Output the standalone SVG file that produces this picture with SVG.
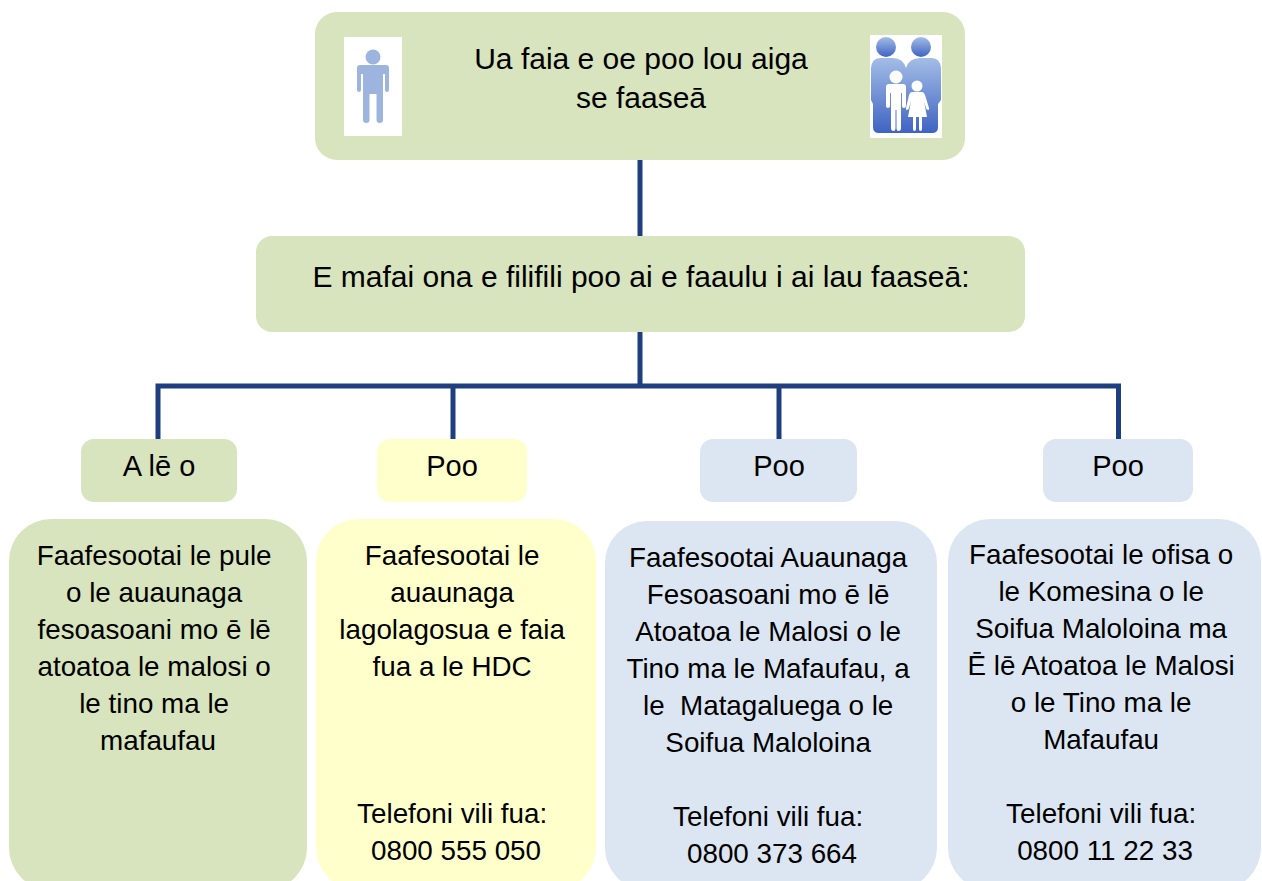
<svg xmlns="http://www.w3.org/2000/svg" width="1262" height="881" viewBox="0 0 1262 881">
<style>
.t{font-family:"Liberation Sans",Arial,sans-serif;fill:#000;text-anchor:middle}
.h{font-size:30px}
.l{font-size:29px}
.b{font-size:27.8px}
.g{fill:#d7e4bd}
.y{fill:#ffffcc}
.u{fill:#dce6f2}
.c{stroke:#1f3e80;stroke-width:5;fill:none}
</style>
<defs>
<linearGradient id="fam" x1="0" y1="0" x2="0" y2="1">
<stop offset="0" stop-color="#a3bde6"/>
<stop offset="1" stop-color="#3f63c2"/>
</linearGradient>
</defs>
<rect width="1262" height="881" fill="#fff"/>
<g id="connectors">
<path class="c" d="M640 160V237"/>
<path class="c" d="M640 332V386"/>
<path class="c" d="M158 439V386H1118.5V439"/>
<path class="c" d="M453 386V439"/>
<path class="c" d="M779 386V439"/>
</g>
<g id="top">
<rect class="g" x="315" y="12" width="650" height="148" rx="22"/>
<rect x="344" y="37" width="58" height="99" fill="#fff"/>
<g fill="#9db5de">
<circle cx="373" cy="57" r="7.5"/>
<path d="M360 65H386Q389 65 389 68V90Q389 92 387 92Q385 92 385 90V74H383V120Q383 123 379.5 123Q376.5 123 376.5 120V94H369.5V120Q369.5 123 366.5 123Q363 123 363 120V74H361V90Q361 92 359 92Q357 92 357 90V68Q357 65 360 65Z"/>
</g>
<rect x="870" y="35" width="72" height="103" fill="#fff"/>
<g fill="url(#fam)">
<circle cx="886" cy="47" r="10"/>
<circle cx="921" cy="47" r="10"/>
<path d="M880 58H893Q903 58 906 68Q909 58 920 58H932Q940 58 941 68V100L938 104V127Q938 133 932 133H879Q873 133 873 127V104L871 100V68Q872 58 880 58Z"/>
</g>
<g fill="#fff">
<circle cx="896" cy="77" r="6.5"/>
<path d="M889 84H903Q906 84 906 87V106Q906 108 904 108Q902 108 902 106V93H901V128Q901 131 898.5 131Q896.5 131 896.5 128V110H895.5V128Q895.5 131 893.5 131Q891 131 891 128V93H890V106Q890 108 888 108Q886 108 886 106V87Q886 84 889 84Z"/>
<circle cx="917" cy="86" r="5.5"/>
<path d="M912 92H922Q924 92 925 95L929 108Q929.5 110 928 110Q926.5 110 926 108L924 101L927 117H922V129Q922 131 920.5 131Q919 131 919 129V117H916V129Q916 131 914.5 131Q913 131 913 129V117H908L911 101L909 108Q908.5 110 907 110Q905.5 110 906 108L909 95Q910 92 912 92Z"/>
</g>
<text class="t h" x="641" y="69">Ua faia e oe poo lou aiga</text>
<text class="t h" x="641" y="108">se faaseā</text>
</g>
<g id="choose">
<rect class="g" x="256" y="236" width="769" height="96" rx="16"/>
<text class="t h" x="641" y="287">E mafai ona e filifili poo ai e faaulu i ai lau faaseā:</text>
</g>
<g id="label1">
<rect class="g" x="81" y="439" width="156" height="63" rx="13"/>
<text class="t l" x="159" y="476">A lē o</text>
</g>
<g id="label2">
<rect class="y" x="377" y="439" width="150" height="63" rx="13"/>
<text class="t l" x="452" y="476">Poo</text>
</g>
<g id="label3">
<rect class="u" x="700" y="439" width="157" height="63" rx="13"/>
<text class="t l" x="779" y="476">Poo</text>
</g>
<g id="label4">
<rect class="u" x="1043" y="439" width="150" height="63" rx="13"/>
<text class="t l" x="1118" y="476">Poo</text>
</g>
<g id="box1">
<rect class="g" x="9" y="519" width="298" height="371" rx="42"/>
<text class="t b" x="158">
<tspan x="158" y="565">Faafesootai le pule</tspan>
<tspan x="158" y="602">o le auaunaga</tspan>
<tspan x="158" y="639">fesoasoani mo ē lē</tspan>
<tspan x="158" y="676">atoatoa le malosi o</tspan>
<tspan x="158" y="713">le tino ma le</tspan>
<tspan x="158" y="750">mafaufau</tspan>
</text>
</g>
<g id="box2">
<rect class="y" x="316" y="519" width="280" height="371" rx="42"/>
<text class="t b" x="456">
<tspan x="456" y="565">Faafesootai le</tspan>
<tspan x="456" y="602">auaunaga</tspan>
<tspan x="456" y="639">lagolagosua e faia</tspan>
<tspan x="456" y="676">fua a le HDC</tspan>
<tspan x="456" y="823">Telefoni vili fua:</tspan>
<tspan x="456" y="860">0800 555 050</tspan>
</text>
</g>
<g id="box3">
<rect class="u" x="605" y="521" width="332" height="369" rx="42"/>
<text class="t b" x="772">
<tspan x="772" y="567">Faafesootai Auaunaga</tspan>
<tspan x="772" y="604">Fesoasoani mo ē lē</tspan>
<tspan x="772" y="641">Atoatoa le Malosi o le</tspan>
<tspan x="772" y="678">Tino ma le Mafaufau, a</tspan>
<tspan x="772" y="715">le&#160; Matagaluega o le</tspan>
<tspan x="772" y="752">Soifua Maloloina</tspan>
<tspan x="772" y="826">Telefoni vili fua:</tspan>
<tspan x="772" y="863">0800 373 664</tspan>
</text>
</g>
<g id="box4">
<rect class="u" x="948" y="519" width="313" height="371" rx="42"/>
<text class="t b" x="1105">
<tspan x="1105" y="564">Faafesootai le ofisa o</tspan>
<tspan x="1105" y="601">le Komesina o le</tspan>
<tspan x="1105" y="638">Soifua Maloloina ma</tspan>
<tspan x="1105" y="675">Ē lē Atoatoa le Malosi</tspan>
<tspan x="1105" y="712">o le Tino ma le</tspan>
<tspan x="1105" y="749">Mafaufau</tspan>
<tspan x="1105" y="823">Telefoni vili fua:</tspan>
<tspan x="1105" y="860">0800 11 22 33</tspan>
</text>
</g>
</svg>
